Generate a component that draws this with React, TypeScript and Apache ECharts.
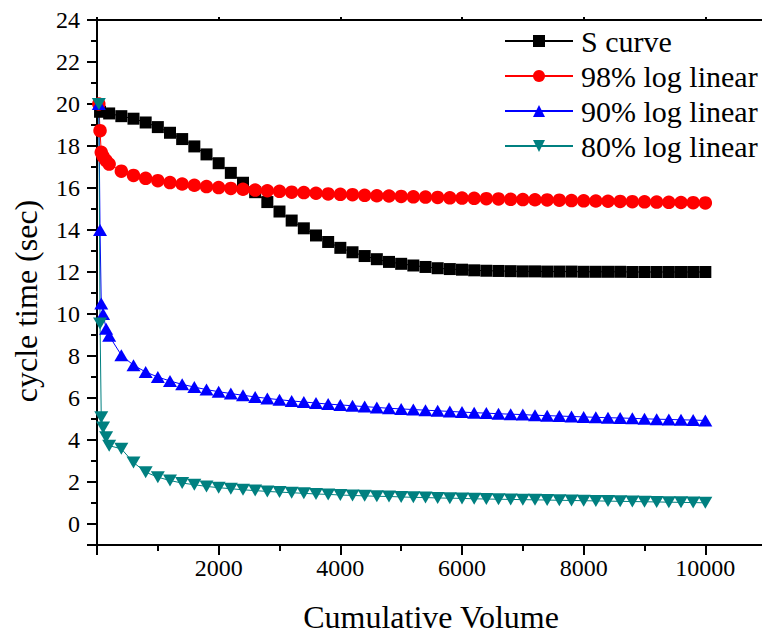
import React, { useEffect, useRef } from 'react';
import * as echarts from 'echarts';

const stepVolume = [
  200, 400, 600, 800, 1000, 1200, 1400, 1600, 1800, 2000,
  2200, 2400, 2600, 2800, 3000, 3200, 3400, 3600, 3800, 4000,
  4200, 4400, 4600, 4800, 5000, 5200, 5400, 5600, 5800, 6000,
  6200, 6400, 6600, 6800, 7000, 7200, 7400, 7600, 7800, 8000,
  8200, 8400, 8600, 8800, 9000, 9200, 9400, 9600, 9800, 10000,
];
const logVolume = [30, 50, 70, 100, 150, ...stepVolume];
const sCurveVolume = [50, ...stepVolume];

const sCurveTime = [
  19.63,
  19.55, 19.42, 19.3, 19.12, 18.9, 18.63, 18.33, 17.98, 17.6, 17.18,
  16.72, 16.25, 15.8, 15.33, 14.88, 14.45, 14.08, 13.74, 13.43, 13.15,
  12.94, 12.76, 12.61, 12.48, 12.39, 12.31, 12.24, 12.18, 12.14, 12.11,
  12.08, 12.06, 12.05, 12.04, 12.03, 12.03, 12.02, 12.02, 12.02, 12.01,
  12.01, 12.01, 12.01, 12.0, 12.0, 12.0, 12.0, 12.0, 12.0, 12.0,
];
const log98Time = [
  20.0, 18.73, 17.7, 17.5, 17.3,
  17.14, 16.8, 16.6, 16.46, 16.35, 16.26, 16.19, 16.13, 16.07, 16.02,
  15.98, 15.94, 15.9, 15.87, 15.84, 15.8, 15.78, 15.75, 15.72, 15.7,
  15.68, 15.65, 15.63, 15.62, 15.6, 15.58, 15.57, 15.55, 15.53, 15.52,
  15.51, 15.49, 15.48, 15.46, 15.45, 15.44, 15.43, 15.42, 15.4, 15.39,
  15.38, 15.37, 15.36, 15.35, 15.34, 15.33, 15.32, 15.31, 15.3, 15.29,
];
const log90Time = [
  20.0, 14.0, 10.5, 10.0, 9.3,
  8.96, 8.04, 7.56, 7.24, 7.0, 6.81, 6.65, 6.52, 6.4, 6.3,
  6.21, 6.13, 6.05, 5.98, 5.92, 5.86, 5.81, 5.76, 5.71, 5.67,
  5.63, 5.59, 5.55, 5.51, 5.48, 5.45, 5.42, 5.39, 5.36, 5.33,
  5.3, 5.28, 5.25, 5.23, 5.21, 5.18, 5.16, 5.14, 5.12, 5.1,
  5.08, 5.06, 5.05, 5.03, 5.01, 4.99, 4.98, 4.96, 4.95, 4.93,
];
const log80Time = [
  20.0, 9.55, 5.08, 4.6, 4.13,
  3.73, 3.58, 2.93, 2.47, 2.23, 2.07, 1.95, 1.87, 1.79, 1.73,
  1.68, 1.63, 1.59, 1.55, 1.52, 1.49, 1.46, 1.43, 1.41, 1.38,
  1.36, 1.34, 1.32, 1.31, 1.29, 1.27, 1.26, 1.24, 1.23, 1.22,
  1.2, 1.19, 1.18, 1.17, 1.16, 1.15, 1.14, 1.13, 1.12, 1.11,
  1.1, 1.09, 1.08, 1.07, 1.06, 1.05, 1.04, 1.03, 1.02, 1.01,
];

const seriesNames = ['S curve', '98% log linear', '90% log linear', '80% log linear'];
const seriesColors = ['#000000', '#ff0000', '#0000ff', '#008080'];
const xTitle = 'Cumulative Volume';
const yTitle = 'cycle time (sec)';

const pair = (xs: number[], ys: number[]) => ys.map((y, i) => [xs[i], y]);

const FONT = 'Liberation Serif';

export default function App() {
  const ref = useRef<HTMLDivElement>(null);
  useEffect(() => {
    const chart = echarts.init(ref.current!, null, { renderer: 'svg' });
    const axisLineStyle = { color: '#000', width: 2 };
    chart.setOption({
      animation: false,
      grid: { left: 97, top: 20, right: 3, bottom: 90, containLabel: false },
      xAxis: [
        {
          type: 'value',
          position: 'bottom',
          min: 0,
          max: 12000,
          interval: 2000,
          axisLine: { show: true, onZero: false, lineStyle: axisLineStyle },
          axisTick: { show: true, length: 10, lineStyle: axisLineStyle },
          minorTick: { show: true, splitNumber: 2, length: 6, lineStyle: axisLineStyle },
          splitLine: { show: false },
          axisLabel: {
            margin: 11,
            fontSize: 24,
            fontFamily: FONT,
            color: '#000',
            formatter: (v: number) => (v > 0 && v <= 10000 ? String(v) : ''),
          },
        },
        {
          type: 'value',
          position: 'top',
          min: 0,
          max: 12000,
          interval: 2000,
          axisLine: { show: true, onZero: false, lineStyle: axisLineStyle },
          axisTick: { show: true, length: 3, lineStyle: axisLineStyle },
          minorTick: { show: false },
          splitLine: { show: false },
          axisLabel: { show: false },
        },
      ],
      yAxis: {
        type: 'value',
        min: -1,
        max: 24,
        splitNumber: 12,
        minInterval: 2,
        maxInterval: 2,
        axisLine: { show: true, onZero: false, lineStyle: axisLineStyle },
        axisTick: { show: true, length: 10, lineStyle: axisLineStyle },
        minorTick: { show: true, splitNumber: 2, length: 6, lineStyle: axisLineStyle },
        splitLine: { show: false },
        axisLabel: {
          margin: 17,
          fontSize: 24,
          fontFamily: FONT,
          color: '#000',
          formatter: (v: number) => (v >= 0 ? String(v) : ''),
        },
      },
      legend: {
        orient: 'vertical',
        left: 499,
        top: 21,
        itemWidth: 68,
        itemHeight: 15,
        itemGap: 5,
        textStyle: { fontSize: 30, fontFamily: FONT, color: '#000', padding: [0, 0, 0, 3] },
        data: seriesNames,
      },
      graphic: [
        {
          type: 'text',
          x: 431,
          y: 617,
          style: { text: xTitle, fontSize: 32, fontFamily: FONT, fill: '#000', align: 'center', verticalAlign: 'middle' },
        },
        {
          type: 'text',
          x: 26,
          y: 301,
          rotation: Math.PI / 2,
          style: { text: yTitle, fontSize: 32, fontFamily: FONT, fill: '#000', align: 'center', verticalAlign: 'middle' },
        },
      ],
      series: [
        {
          name: seriesNames[0],
          type: 'line',
          data: pair(sCurveVolume, sCurveTime),
          symbol: 'rect',
          symbolSize: 12,
          itemStyle: { color: seriesColors[0] },
          lineStyle: { color: seriesColors[0], width: 1 },
        },
        {
          name: seriesNames[1],
          type: 'line',
          data: pair(logVolume, log98Time),
          symbol: 'circle',
          symbolSize: 13.5,
          itemStyle: { color: seriesColors[1] },
          lineStyle: { color: seriesColors[1], width: 1 },
        },
        {
          name: seriesNames[2],
          type: 'line',
          data: pair(logVolume, log90Time),
          symbol: 'triangle',
          symbolSize: [14, 12],
          itemStyle: { color: seriesColors[2] },
          lineStyle: { color: seriesColors[2], width: 1 },
        },
        {
          name: seriesNames[3],
          type: 'line',
          data: pair(logVolume, log80Time),
          symbol: 'triangle',
          symbolRotate: 180,
          symbolSize: [14, 12],
          itemStyle: { color: seriesColors[3] },
          lineStyle: { color: seriesColors[3], width: 1 },
        },
      ],
    });
    return () => chart.dispose();
  }, []);
  return (
    <div style={{ position: 'absolute', left: 0, top: 0, width: 762, height: 635, overflow: 'hidden' }}>
      <div ref={ref} style={{ width: 830, height: 635 }} />
    </div>
  );
}
